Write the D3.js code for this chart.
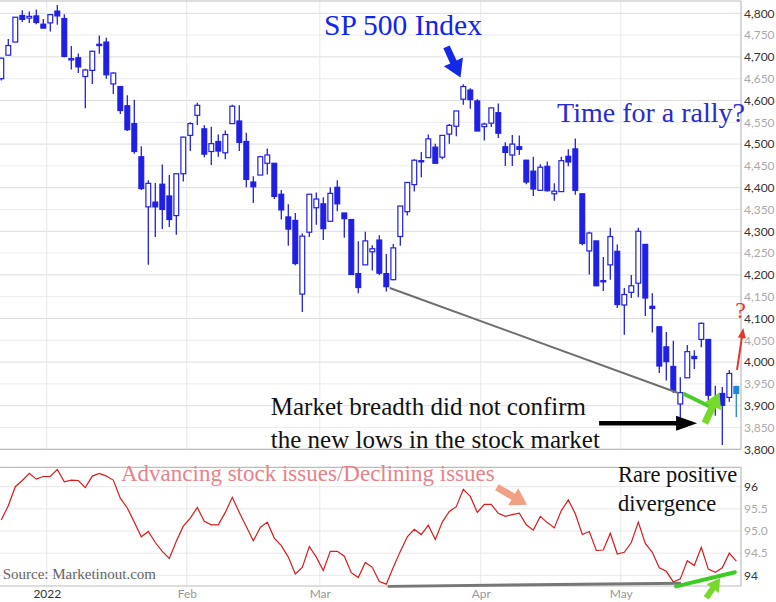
<!DOCTYPE html>
<html>
<head>
<meta charset="utf-8">
<script src="https://cdn.jsdelivr.net/npm/d3@7"></script>
<style>
  body { margin: 0; background: #fff; }
  svg { display: block; }
</style>
</head>
<body>
<script>
// S&P 500 daily candles, Dec 22 2021 .. May 24 2022
const opens = [
  4650, 4704, 4734, 4795, 4789, 4794, 4775, 4778, 4805, 4788,
  4693, 4698, 4655, 4669, 4729, 4734, 4638, 4632, 4588, 4547,
  4471, 4356, 4367, 4408, 4381, 4336, 4432, 4520, 4566, 4535,
  4483, 4506, 4480, 4547, 4553, 4506, 4413, 4429, 4456, 4456,
  4385, 4333, 4325, 4156, 4298, 4354, 4363, 4323, 4401, 4342,
  4327, 4203, 4223, 4253, 4280, 4203, 4189, 4288, 4345, 4407,
  4462, 4469, 4493, 4470, 4523, 4541, 4603, 4624, 4599, 4540,
  4548, 4572, 4494, 4475, 4494, 4463, 4438, 4394, 4449, 4386,
  4391, 4472, 4489, 4386, 4255, 4278, 4187, 4223, 4254, 4131,
  4160, 4181, 4270, 4128, 4081, 4035, 3990, 3904, 3964, 4013,
  4052, 4052, 3899, 3928, 3919, 3944
]
const highs = [
  4698, 4741, 4791, 4807, 4804, 4809, 4787, 4797, 4819, 4798,
  4725, 4708, 4673, 4714, 4749, 4744, 4665, 4632, 4612, 4602,
  4495, 4417, 4411, 4453, 4429, 4433, 4517, 4550, 4595, 4543,
  4540, 4522, 4531, 4590, 4589, 4526, 4426, 4473, 4490, 4456,
  4395, 4362, 4342, 4295, 4385, 4389, 4378, 4401, 4417, 4342,
  4327, 4277, 4299, 4268, 4291, 4248, 4271, 4358, 4413, 4465,
  4482, 4522, 4501, 4521, 4546, 4576, 4637, 4628, 4603, 4549,
  4584, 4593, 4504, 4521, 4520, 4464, 4471, 4454, 4460, 4410,
  4471, 4488, 4513, 4386, 4299, 4278, 4241, 4308, 4270, 4170,
  4200, 4308, 4270, 4158, 4081, 4069, 4049, 3965, 4039, 4027,
  4091, 4052, 3946, 3943, 3982, 3946
]
const lows = [
  4646, 4704, 4734, 4780, 4778, 4775, 4766, 4758, 4774, 4699,
  4671, 4663, 4582, 4638, 4707, 4650, 4615, 4569, 4530, 4478,
  4395, 4223, 4287, 4305, 4310, 4292, 4414, 4484, 4544, 4470,
  4452, 4471, 4465, 4547, 4484, 4401, 4365, 4429, 4430, 4374,
  4327, 4267, 4222, 4115, 4287, 4315, 4280, 4323, 4346, 4285,
  4200, 4158, 4223, 4210, 4200, 4162, 4188, 4267, 4336, 4391,
  4424, 4469, 4456, 4465, 4501, 4518, 4590, 4581, 4530, 4508,
  4539, 4514, 4450, 4450, 4475, 4408, 4381, 4393, 4391, 4370,
  4391, 4449, 4384, 4268, 4201, 4175, 4163, 4189, 4124, 4063,
  4147, 4149, 4106, 4068, 3975, 3958, 3929, 3859, 3964, 3984,
  4034, 3912, 3877, 3810, 3909, 3874
]
const closes = [
  4697, 4726, 4791, 4786, 4793, 4779, 4766, 4797, 4794, 4701,
  4696, 4677, 4670, 4713, 4726, 4659, 4663, 4577, 4533, 4483,
  4398, 4410, 4356, 4350, 4327, 4432, 4516, 4547, 4589, 4477,
  4501, 4484, 4522, 4587, 4504, 4419, 4402, 4471, 4475, 4380,
  4349, 4305, 4226, 4289, 4385, 4374, 4306, 4387, 4363, 4329,
  4201, 4171, 4278, 4260, 4204, 4173, 4262, 4358, 4412, 4463,
  4461, 4512, 4456, 4520, 4543, 4576, 4632, 4602, 4530, 4546,
  4583, 4525, 4481, 4500, 4488, 4413, 4397, 4447, 4393, 4392,
  4462, 4459, 4394, 4272, 4296, 4175, 4184, 4288, 4132, 4155,
  4175, 4300, 4147, 4123, 3991, 4001, 3935, 3930, 4024, 4008,
  4089, 3924, 3901, 3901, 3974, 3928
]

// Advancing / declining issues indicator, one value per session
const breadth = [
  95.25, 95.57, 96.00, 96.14, 96.30, 96.17, 96.23, 96.23, 96.39, 96.11,
  96.15, 96.14, 95.98, 96.24, 96.30, 96.24, 96.15, 95.74, 95.52, 95.20,
  94.87, 94.99, 94.74, 94.54, 94.38, 94.77, 95.11, 95.29, 95.53, 95.22,
  95.14, 95.14, 95.42, 95.76, 95.42, 95.10, 94.78, 95.08, 95.20, 94.84,
  94.67, 94.41, 94.03, 94.18, 94.65, 94.41, 94.11, 94.54, 94.54, 94.43,
  94.06, 93.95, 94.29, 94.18, 93.86, 93.80, 94.18, 94.54, 94.87, 95.04,
  94.92, 95.13, 94.81, 95.20, 95.44, 95.55, 95.94, 95.78, 95.42, 95.60,
  95.60, 95.40, 95.33, 95.37, 95.40, 95.14, 95.02, 95.33, 95.19, 95.07,
  95.46, 95.70, 95.39, 94.92, 94.99, 94.56, 94.57, 94.95, 94.48, 94.52,
  94.74, 95.20, 94.72, 94.52, 94.17, 94.09, 93.85, 93.92, 94.33, 94.22,
  94.63, 94.14, 94.07, 94.17, 94.50, 94.32
]

// month starts (session index) and their labels
const monthStarts = [7, 27, 46, 69, 89]
const monthLabels = ['2022', 'Feb', 'Mar', 'Apr', 'May']

const priceTicks = d3.range(3800, 4801, 50)
const breadthTicks = [96, 95.5, 95, 94.5, 94]
const breadthLabels = ['96', '95.5', '95.0', '94.5', '94']

const width = 776
const height = 602
const n = opens.length
const plotRight = 741
const blue = '#2020e3'
const serif = 'Liberation Serif, Times New Roman, serif'

const svg = d3.select('body').append('svg')
  .attr('width', width)
  .attr('height', height)

const x = d3.scaleLinear().domain([-0.5, n - 0.5]).range([-2.2, -2.2 + 7 * n])
const y = d3.scaleLinear().domain([3800, 4800]).range([449.3, 13.3])
const yb = d3.scaleLinear().domain([94, 96]).range([575.3, 486.7])

// ---------- grid ----------
const grid = svg.append('g')
grid.selectAll('.hg')
  .data(priceTicks)
  .enter().append('line')
  .attr('x1', 0).attr('x2', plotRight)
  .attr('y1', d => y(d)).attr('y2', d => y(d))
  .attr('stroke', d => d % 100 === 0 ? '#dddddd' : '#ececec')

grid.selectAll('.hb')
  .data(breadthTicks)
  .enter().append('line')
  .attr('x1', 0).attr('x2', plotRight)
  .attr('y1', d => yb(d)).attr('y2', d => yb(d))
  .attr('stroke', '#e8e8e8')

monthStarts.forEach(i => {
  grid.append('line')
    .attr('x1', x(i - 0.5)).attr('x2', x(i - 0.5))
    .attr('y1', 1).attr('y2', 449.3)
    .attr('stroke', '#e8e8e8')
  grid.append('line')
    .attr('x1', x(i - 0.5)).attr('x2', x(i - 0.5))
    .attr('y1', 467.3).attr('y2', 586)
    .attr('stroke', '#e8e8e8')
})

// ---------- frames ----------
const frame = svg.append('g').attr('stroke', '#bdbdbd').attr('stroke-width', 1.2)
frame.append('line').attr('x1', 0).attr('x2', plotRight).attr('y1', 1).attr('y2', 1)
frame.append('line').attr('x1', 0).attr('x2', plotRight).attr('y1', 449.3).attr('y2', 449.3)
frame.append('line').attr('x1', plotRight).attr('x2', plotRight).attr('y1', 1).attr('y2', 449.3)
frame.append('line').attr('x1', 0).attr('x2', plotRight).attr('y1', 467.3).attr('y2', 467.3)
frame.append('line').attr('x1', 0).attr('x2', plotRight).attr('y1', 586).attr('y2', 586)
frame.append('line').attr('x1', plotRight).attr('x2', plotRight).attr('y1', 467.3).attr('y2', 586)

// ---------- candles ----------
svg.append('clipPath').attr('id', 'clip')
  .append('rect').attr('x', 0).attr('y', 1).attr('width', plotRight).attr('height', 449)

const candles = svg.append('g').attr('clip-path', 'url(#clip)')
  .selectAll('g')
  .data(d3.range(n))
  .enter().append('g')

const colorOf = i => i === n - 1 ? '#1e8ad6' : blue

candles.append('line')
  .attr('x1', i => x(i)).attr('x2', i => x(i))
  .attr('y1', i => y(highs[i])).attr('y2', i => y(lows[i]))
  .attr('stroke', colorOf)
  .attr('stroke-width', 1.3)

candles.append('rect')
  .attr('x', i => x(i) - 2.4)
  .attr('width', 4.8)
  .attr('y', i => y(Math.max(opens[i], closes[i])))
  .attr('height', i => Math.max(1.2, Math.abs(y(opens[i]) - y(closes[i]))))
  .attr('fill', i => closes[i] > opens[i] ? '#fff' : colorOf(i))
  .attr('stroke', colorOf)
  .attr('stroke-width', 1.2)

// ---------- breadth line ----------
svg.append('path')
  .datum(breadth)
  .attr('fill', 'none')
  .attr('stroke', '#dd1a1a')
  .attr('stroke-width', 1.2)
  .attr('d', d3.line().x((d, i) => x(i)).y(d => yb(d)))

// ---------- axes ----------
const yAxis = svg.append('g')
  .attr('transform', 'translate(' + plotRight + ',0)')
  .call(d3.axisRight(y).tickValues(priceTicks).tickFormat(d3.format(',')).tickSize(0).tickPadding(3))
yAxis.select('.domain').remove()
yAxis.selectAll('text')
  .attr('font-family', 'Lato, sans-serif')
  .attr('font-size', 12)
  .attr('fill', d => d % 100 === 0 ? '#333' : '#aaa')

const bAxis = svg.append('g')
  .attr('transform', 'translate(' + plotRight + ',0)')
  .call(d3.axisRight(yb).tickValues(breadthTicks).tickFormat((d, i) => breadthLabels[i]).tickSize(0).tickPadding(3))
bAxis.select('.domain').remove()
bAxis.selectAll('text')
  .attr('font-family', 'Lato, sans-serif')
  .attr('font-size', 12)
  .attr('fill', (d, i) => i === 0 || i === breadthTicks.length - 1 ? '#333' : '#aaa')

const xAxis = svg.append('g')
  .attr('transform', 'translate(0,586)')
  .call(d3.axisBottom(x).tickValues(monthStarts.map(i => i - 0.5)).tickFormat((d, i) => monthLabels[i]).tickSize(0).tickPadding(3))
xAxis.select('.domain').remove()
xAxis.selectAll('text')
  .attr('font-family', 'Lato, sans-serif')
  .attr('font-size', 12)
  .attr('fill', (d, i) => i === 0 ? '#333' : '#999')

// ---------- annotations (anchored in data space) ----------
function blockArrow (tail, tip, shaft, headLen, headW, fill) {
  const dx = tip[0] - tail[0]
  const dy = tip[1] - tail[1]
  const len = Math.hypot(dx, dy)
  const ux = dx / len
  const uy = dy / len
  const px = -uy
  const py = ux
  const bx = tip[0] - ux * headLen
  const by = tip[1] - uy * headLen
  const pts = [
    [tail[0] + px * shaft / 2, tail[1] + py * shaft / 2],
    [bx + px * shaft / 2, by + py * shaft / 2],
    [bx + px * headW / 2, by + py * headW / 2],
    tip,
    [bx - px * headW / 2, by - py * headW / 2],
    [bx - px * shaft / 2, by - py * shaft / 2],
    [tail[0] - px * shaft / 2, tail[1] - py * shaft / 2]
  ]
  svg.append('polygon')
    .attr('points', pts.map(p => p.join(',')).join(' '))
    .attr('fill', fill)
}

const P = (i, v) => [x(i), y(v)]
const B = (i, v) => [x(i), yb(v)]

function label (pos, txt, size, fill) {
  return svg.append('text')
    .attr('x', pos[0]).attr('y', pos[1])
    .attr('font-family', serif)
    .attr('font-size', size)
    .attr('fill', fill)
    .text(txt)
}

// main panel
label(P(46.1, 4750), 'SP 500 Index', 29.5, '#1024f2')
blockArrow(P(63.6, 4723), P(65.6, 4653), 7, 17, 21, '#1428e8')
label(P(79.4, 4551), 'Time for a rally?', 28, '#2a2ad6')

const trend = [P(55.5, 4170), P(96.7, 3929)]
svg.append('line')
  .attr('x1', trend[0][0]).attr('y1', trend[0][1])
  .attr('x2', trend[1][0]).attr('y2', trend[1][1])
  .attr('stroke', '#6e6e6e').attr('stroke-width', 2)

const greenSeg = [P(97.4, 3928), P(101.2, 3898)]
svg.append('line')
  .attr('x1', greenSeg[0][0]).attr('y1', greenSeg[0][1])
  .attr('x2', greenSeg[1][0]).attr('y2', greenSeg[1][1])
  .attr('stroke', '#4ccc2a').attr('stroke-width', 4)
blockArrow(P(100.5, 3860), P(102.6, 3930), 7, 15, 18, '#77d92a')

blockArrow(P(85.4, 3860), P(99.4, 3860), 4.5, 21, 15, '#000')
label(P(38.5, 3879), 'Market breadth did not confirm', 25, '#111')
label(P(38.5, 3803), 'the new lows in the stock market', 25, '#111')

blockArrow(P(105.1, 3982), P(106, 4078), 2, 10, 8, '#e2372a')
label(P(105.6, 4101), '?', 24, '#e2372a').attr('text-anchor', 'middle')

// breadth panel
label(B(17.1, 96.13), 'Advancing stock issues/Declining issues', 23, '#e8828a')
blockArrow(B(70.8, 95.99), B(75.1, 95.59), 7, 16, 20, '#f2a082')
label(B(88.1, 96.11), 'Rare positive', 22.5, '#111')
label(B(88.1, 95.46), 'divergence', 22.5, '#111')

const greySeg = [B(55.2, 93.75), B(97.1, 93.82)]
svg.append('line')
  .attr('x1', greySeg[0][0]).attr('y1', greySeg[0][1])
  .attr('x2', greySeg[1][0]).attr('y2', greySeg[1][1])
  .attr('stroke', '#777').attr('stroke-width', 3)

const greenLow = [B(96.4, 93.75), B(104.8, 94.07)]
svg.append('line')
  .attr('x1', greenLow[0][0]).attr('y1', greenLow[0][1])
  .attr('x2', greenLow[1][0]).attr('y2', greenLow[1][1])
  .attr('stroke', '#3ccc22').attr('stroke-width', 4)
  .attr('stroke-linecap', 'round')
blockArrow(B(100.7, 93.49), B(102.7, 93.94), 6, 13, 15, '#77d92a')

label(B(0.2, 93.92), 'Source: Marketinout.com', 15, '#666')
</script>
</body>
</html>
